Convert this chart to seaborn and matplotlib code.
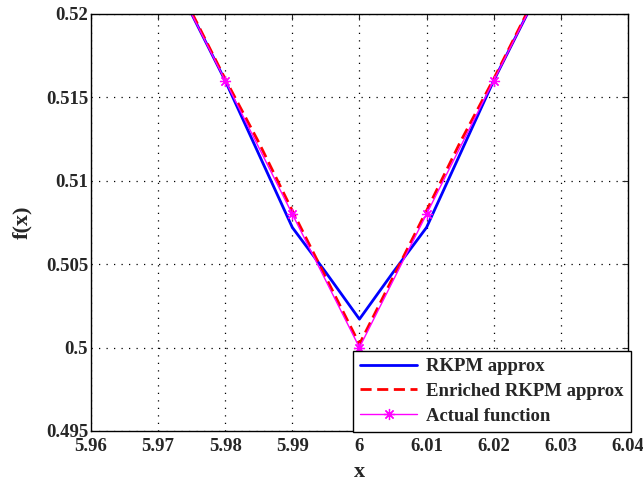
import matplotlib
matplotlib.use("Agg")
import matplotlib.pyplot as plt
import seaborn as sns
import pandas as pd

# data
x_fine = [5.96, 5.965, 5.97, 5.975, 5.98, 5.985, 5.99, 5.995, 6.0,
          6.005, 6.01, 6.015, 6.02, 6.025, 6.03, 6.035, 6.04]
rkpm = [0.532, 0.528, 0.524, 0.520, 0.516, 0.5116, 0.5072, 0.5045, 0.5017,
        0.5045, 0.5072, 0.5116, 0.516, 0.520, 0.524, 0.528, 0.532]
enriched = [0.532, 0.528, 0.524, 0.5201, 0.5161, 0.5123, 0.5082, 0.5042, 0.5002,
            0.5042, 0.5082, 0.5123, 0.5161, 0.5201, 0.524, 0.528, 0.532]
x_actual = [5.96, 5.97, 5.98, 5.99, 6.0, 6.01, 6.02, 6.03, 6.04]
actual = [0.532, 0.524, 0.516, 0.508, 0.500, 0.508, 0.516, 0.524, 0.532]

xticks = [5.96, 5.97, 5.98, 5.99, 6.0, 6.01, 6.02, 6.03, 6.04]
xticklabels = ["5.96", "5.97", "5.98", "5.99", "6", "6.01", "6.02", "6.03", "6.04"]
yticks = [0.495, 0.5, 0.505, 0.51, 0.515, 0.52]
yticklabels = ["0.495", "0.5", "0.505", "0.51", "0.515", "0.52"]

sns.set_style("white")
plt.rcParams['font.family'] = ['Liberation Serif', 'DejaVu Serif']
plt.rcParams['font.weight'] = 'bold'

fig = plt.figure(figsize=(6.43, 4.82), dpi=100)
ax = fig.add_axes([0.1415, 0.106, 0.835, 0.865])

df_r = pd.DataFrame({"x": x_fine, "y": rkpm})
df_e = pd.DataFrame({"x": x_fine, "y": enriched})
df_a = pd.DataFrame({"x": x_actual, "y": actual})

sns.lineplot(data=df_r, x="x", y="y", ax=ax, color="#0000ff", lw=2,
             label="RKPM approx")
sns.lineplot(data=df_e, x="x", y="y", ax=ax, color="#ff0000", lw=2,
             dashes=False, linestyle=(0, (4, 2)), label="Enriched RKPM approx")
sns.lineplot(data=df_a, x="x", y="y", ax=ax, color="#ff00ff", lw=1,
             marker=(8, 2, 0), markersize=8, markeredgewidth=0.9,
             markeredgecolor="#ff00ff",
             label="Actual function")

ax.set_xlim(5.96, 6.04)
ax.set_ylim(0.495, 0.52)
ax.set_xticks(xticks)
ax.set_xticklabels(xticklabels)
ax.set_yticks(yticks)
ax.set_yticklabels(yticklabels)
ax.tick_params(direction="in", top=True, right=True, length=4, width=0.8,
               labelsize=13.5)
ax.tick_params(axis="x", pad=5)
ax.tick_params(axis="y", pad=2)
for lab in ax.get_xticklabels() + ax.get_yticklabels():
    lab.set_fontweight("bold")
ax.grid(True, color="black", linestyle=(0, (1, 5)), linewidth=0.9)
for s in ax.spines.values():
    s.set_color("black")
    s.set_linewidth(1.0)
ax.set_xlabel("x", fontsize=16, fontweight="bold", labelpad=5)
ax.set_ylabel("f(x)", fontsize=16, fontweight="bold", labelpad=10)

leg = ax.legend(loc="lower right", bbox_to_anchor=(1.006, -0.003),
                prop={"family": "Liberation Serif", "weight": "bold", "size": 13.5},
                frameon=True, fancybox=False, edgecolor="black",
                handlelength=3.0, borderpad=0.4, labelspacing=0.4,
                handletextpad=0.5, borderaxespad=0)
leg.get_frame().set_linewidth(1.0)
leg.get_frame().set_alpha(1)

fig.savefig("out.png", dpi=100)
